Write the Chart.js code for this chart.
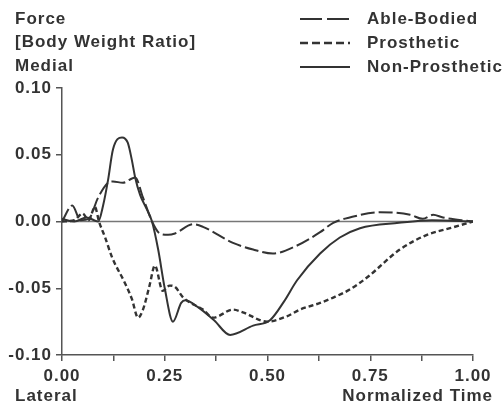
<!DOCTYPE html>
<html>
<head>
<meta charset="utf-8">
<script src="https://cdn.jsdelivr.net/npm/chart.js@4"></script>
<style>
  html, body { margin: 0; padding: 0; background: #fff; }
  #wrap { width: 504px; height: 406px; }
</style>
</head>
<body>
<div id="wrap"><canvas id="forceChart" width="504" height="406"></canvas></div>
<script>
// normalized time / force (body weight ratio)
const timeAble = [0, 0.025, 0.045, 0.065, 0.088, 0.112, 0.124, 0.148, 0.178, 0.197, 0.219, 0.238, 0.258, 0.275, 0.319, 0.343, 0.416, 0.465, 0.513, 0.572, 0.628, 0.66, 0.70, 0.774, 0.847, 0.878, 0.903, 0.927, 0.985, 1.0];
const ableBodied = [0, 0.012, 0.001, 0.002, 0.018, 0.029, 0.030, 0.029, 0.033, 0.018, 0, -0.009, -0.010, -0.009, -0.002, -0.004, -0.016, -0.021, -0.024, -0.018, -0.008, -0.001, 0.003, 0.007, 0.005, 0.002, 0.005, 0.003, 0.0005, 0];

const timeProst = [0, 0.03, 0.05, 0.065, 0.08, 0.09, 0.105, 0.122, 0.153, 0.170, 0.185, 0.197, 0.213, 0.226, 0.245, 0.262, 0.275, 0.295, 0.343, 0.368, 0.416, 0.44, 0.499, 0.547, 0.579, 0.628, 0.66, 0.70, 0.742, 0.822, 0.888, 0.944, 1.0];
const prosthetic = [0, 0.001, 0.006, 0.001, 0.011, 0.0, -0.012, -0.027, -0.046, -0.058, -0.072, -0.066, -0.048, -0.033, -0.052, -0.048, -0.049, -0.057, -0.066, -0.072, -0.066, -0.068, -0.075, -0.071, -0.066, -0.061, -0.057, -0.051, -0.042, -0.021, -0.010, -0.005, 0];

const timeNon = [0, 0.03, 0.06, 0.088, 0.100, 0.112, 0.124, 0.146, 0.160, 0.170, 0.178, 0.19, 0.205, 0.219, 0.234, 0.25, 0.27, 0.29, 0.30, 0.33, 0.37, 0.409, 0.465, 0.506, 0.540, 0.572, 0.628, 0.676, 0.725, 0.82, 0.90, 1.0];
const nonProsthetic = [0.002, 0.0, 0.003, 0.0, 0.012, 0.031, 0.054, 0.063, 0.059, 0.046, 0.033, 0.020, 0.010, 0, -0.021, -0.050, -0.075, -0.061, -0.059, -0.064, -0.074, -0.085, -0.078, -0.074, -0.060, -0.044, -0.024, -0.012, -0.005, -0.001, 0.001, 0];

const seriesNames = ["Able-Bodied", "Prosthetic", "Non-Prosthetic"];
const headerLines = ["Force", "[Body Weight Ratio]", "Medial"];

const ink = "#333";
const family = "'Liberation Sans', Arial, sans-serif";
const font = "bold 17px " + family;

const toPoints = (xs, ys) => xs.map((x, i) => ({ x: x, y: ys[i] }));

const styles = [
  { dash: [14, 4], width: 2 },
  { dash: [5, 3], width: 2.4 },
  { dash: [], width: 2 }
];

// the scanned lettering is wide, so space the letters out a bit
const spacingPlugin = {
  id: "letterSpacing",
  beforeDraw(chart) { chart.ctx.letterSpacing = "1px"; }
};

// header text, legend and the two axis notes
const textPlugin = {
  id: "figureText",
  afterDraw(chart) {
    const ctx = chart.ctx;
    ctx.save();
    ctx.font = font;
    ctx.letterSpacing = "1px";
    ctx.fillStyle = ink;
    ctx.textBaseline = "middle";
    ctx.textAlign = "left";
    headerLines.forEach((t, i) => ctx.fillText(t, 15, 19 + i * 23.5));

    seriesNames.forEach((name, i) => {
      const y = 19 + i * 24;
      ctx.strokeStyle = ink;
      ctx.lineWidth = styles[i].width;
      ctx.setLineDash(styles[i].dash.length ? (i === 0 ? [22, 5] : [8, 4]) : []);
      ctx.beginPath();
      ctx.moveTo(300, y);
      ctx.lineTo(350, y);
      ctx.stroke();
      ctx.setLineDash([]);
      ctx.fillText(name, 367, y);
    });

    ctx.fillText("Lateral", 15, 396);
    ctx.textAlign = "right";
    ctx.fillText("Normalized Time", 493, 396);
    ctx.restore();
  }
};

const canvas = document.getElementById("forceChart");

new Chart(canvas, {
  type: "scatter",
  data: {
    datasets: [
      { label: seriesNames[0], data: toPoints(timeAble, ableBodied) },
      { label: seriesNames[1], data: toPoints(timeProst, prosthetic) },
      { label: seriesNames[2], data: toPoints(timeNon, nonProsthetic) },
      { label: "zero", data: [{ x: 0, y: 0 }, { x: 1, y: 0 }], borderColor: "#777", borderWidth: 1.5 }
    ].map((d, i) => Object.assign({
      showLine: true,
      pointRadius: 0,
      borderColor: ink,
      borderWidth: styles[i] ? styles[i].width : 1.5,
      borderDash: styles[i] ? styles[i].dash : [],
      cubicInterpolationMode: "monotone",
      fill: false
    }, d))
  },
  options: {
    responsive: false,
    animation: false,
    layout: { padding: { top: 88, right: 31, left: 0, bottom: 0 } },
    plugins: { legend: { display: false }, tooltip: { enabled: false } },
    scales: {
      x: {
        type: "linear",
        min: 0,
        max: 1,
        afterFit: s => { s.height = 51; },
        ticks: {
          stepSize: 0.125,
          autoSkip: false,
          maxRotation: 0,
          padding: 5,
          color: ink,
          font: { family: family, size: 17, weight: "bold" },
          callback: v => Math.abs(v * 4 - Math.round(v * 4)) < 1e-6 ? v.toFixed(2) : ""
        },
        grid: { drawOnChartArea: false, drawTicks: true, tickLength: 6, color: "#555", lineWidth: 1.5 },
        border: { color: "#555", width: 1.5 }
      },
      y: {
        min: -0.1,
        max: 0.1,
        afterFit: s => { s.width = 62; },
        ticks: {
          stepSize: 0.05,
          padding: 4,
          color: ink,
          font: { family: family, size: 17, weight: "bold" },
          callback: v => v.toFixed(2)
        },
        grid: { drawOnChartArea: false, drawTicks: true, tickLength: 6, color: "#555", lineWidth: 1.5 },
        border: { color: "#555", width: 1.5 }
      }
    }
  },
  plugins: [spacingPlugin, textPlugin]
});
</script>
</body>
</html>
